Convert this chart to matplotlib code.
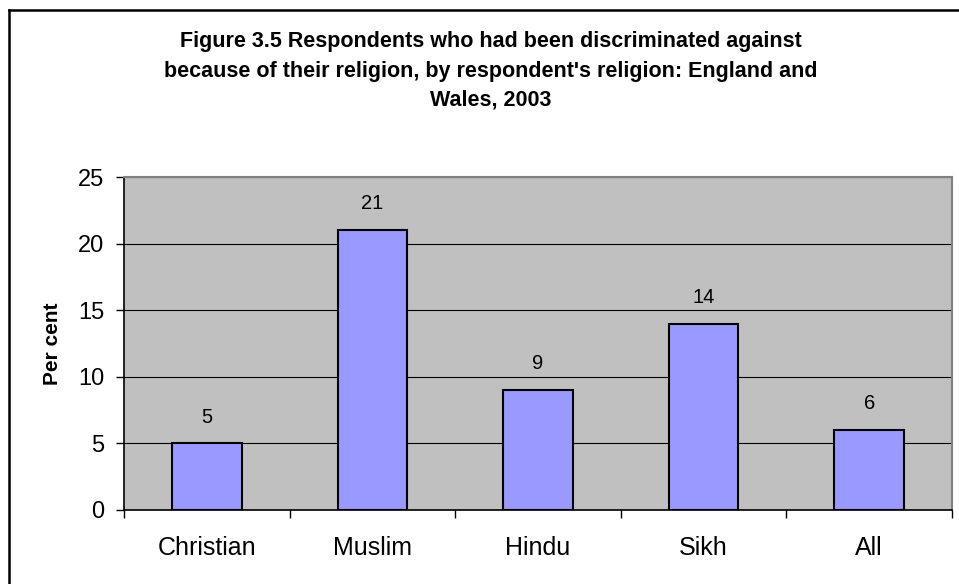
import matplotlib
matplotlib.use("Agg")
import matplotlib.pyplot as plt
from matplotlib.lines import Line2D
import numpy as np

categories = ["Christian", "Muslim", "Hindu", "Sikh", "All"]
values = [5, 21, 9, 14, 6]
yticks = [0, 5, 10, 15, 20, 25]
title_lines = [
    "Figure 3.5 Respondents who had been discriminated against",
    "because of their religion, by respondent's religion: England and",
    "Wales, 2003",
]
ylabel = "Per cent"

plt.rcParams['font.family'] = ['Liberation Sans', 'DejaVu Sans']

W, H = 959, 584
fig = plt.figure(figsize=(W / 100, H / 100), dpi=100)
fig.patch.set_facecolor('white')

# outer frame (left and top visible)
fig.add_artist(Line2D([9 / W, 9 / W], [0, 1 - 10 / H], transform=fig.transFigure, color='black', lw=1.8))
fig.add_artist(Line2D([9 / W, 1], [1 - 10 / H, 1 - 10 / H], transform=fig.transFigure, color='black', lw=1.8))

left, right, top, bottom = 124, 952, 177, 510
ax = fig.add_axes([left / W, 1 - bottom / H, (right - left) / W, (bottom - top) / H])
ax.set_facecolor('#C0C0C0')

x = np.arange(len(categories))
ax.set_xlim(-0.5, len(categories) - 0.5)
ax.set_ylim(0, 25)
ax.set_yticks(yticks)
ax.yaxis.grid(True, color='black', lw=0.8)
ax.set_axisbelow(True)

bars = ax.bar(x, values, width=0.42, color='#9999FF', edgecolor='black', linewidth=1.5, zorder=3)
for xi, v in zip(x, values):
    ax.annotate(str(v), (xi, v), xytext=(0, 19), textcoords='offset points',
                ha='center', va='center', fontsize=14.5)

ax.set_xticks(x)
ax.set_xticklabels(categories, fontsize=18)
ax.set_xticks(np.arange(-0.5, len(categories)), minor=True)
ax.tick_params(axis='x', which='major', length=0, pad=19)
ax.tick_params(axis='x', which='minor', length=6, width=1, direction='out', color='black')
ax.tick_params(axis='y', length=6, width=1, direction='out', labelsize=17, pad=8)

for s in ['left', 'bottom']:
    ax.spines[s].set_color('black')
    ax.spines[s].set_linewidth(1.2)
for s in ['top', 'right']:
    ax.spines[s].set_color('#808080')
    ax.spines[s].set_linewidth(1.5)

ax.set_ylabel(ylabel, fontsize=15, fontweight='bold')
ax.yaxis.set_label_coords(-0.075, 0.5)

baselines = [47, 77, 106]
for line, b in zip(title_lines, baselines):
    fig.text(491 / W, 1 - b / H, line, ha='center', va='baseline', fontsize=15.5, fontweight='bold')

fig.savefig("out.png", dpi=100)
